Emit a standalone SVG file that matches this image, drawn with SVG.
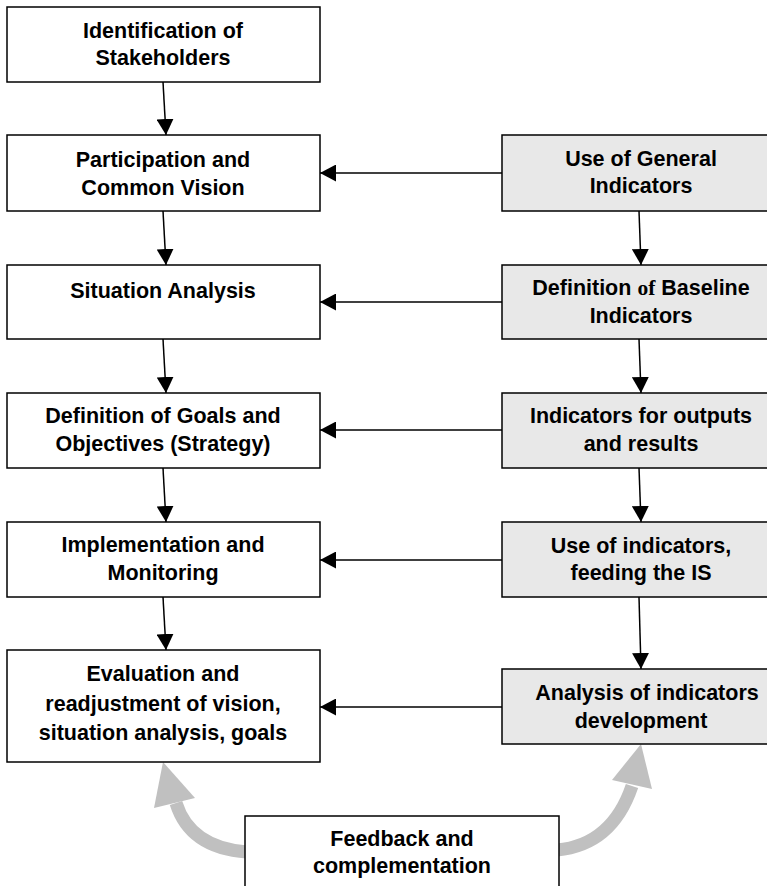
<svg xmlns="http://www.w3.org/2000/svg" width="767" height="886" viewBox="0 0 767 886">
<defs>
<style>
.box{fill:#fff;stroke:#000;stroke-width:1.5}
.gbox{fill:#e8e8e8;stroke:#000;stroke-width:1.5}
.t{font-family:"Liberation Sans",Arial,sans-serif;font-weight:bold;font-size:21.5px;fill:#000;text-anchor:middle}
.ser{font-family:"Liberation Serif","Times New Roman",serif}
.conn{stroke:#000;stroke-width:1.5;fill:none;marker-end:url(#ah)}
.gray{stroke:#c0c0c0;stroke-width:13;fill:none}
.ghead{fill:#c0c0c0}
</style>
<marker id="ah" markerUnits="userSpaceOnUse" markerWidth="17" markerHeight="17" refX="16" refY="8.5" orient="auto" viewBox="0 0 17 17">
<path d="M0,0 L16,8.5 L0,17 z" fill="#000"/>
</marker>
</defs>
<rect width="767" height="886" fill="#fff"/>

<g id="feedback-arrows">
<path class="gray" d="M247,852 Q190,848 176,803"/>
<polygon class="ghead" points="163,762 154,808 195,798"/>
<path class="gray" d="M557,850 Q612,845 632,786"/>
<polygon class="ghead" points="641,744 612,780 652,789"/>
</g>

<g id="connectors">
<path class="conn" d="M163,82 L166,135"/>
<path class="conn" d="M163,211 L166,265"/>
<path class="conn" d="M163,339 L166,393"/>
<path class="conn" d="M163,468 L166,522"/>
<path class="conn" d="M163,597 L166,650"/>
<path class="conn" d="M639,211 L641,265"/>
<path class="conn" d="M639,339 L641,393"/>
<path class="conn" d="M639,468 L641,522"/>
<path class="conn" d="M639,597 L641,669"/>
<path class="conn" d="M502,173 L320,173"/>
<path class="conn" d="M502,302 L320,302"/>
<path class="conn" d="M502,430 L320,430"/>
<path class="conn" d="M502,560 L320,560"/>
<path class="conn" d="M502,707 L320,707"/>
</g>

<g id="n-stakeholders">
<rect class="box" x="7" y="7" width="313" height="75"/>
<text class="t" x="163" y="37.5">Identification of</text>
<text class="t" x="163" y="64.5">Stakeholders</text>
</g>
<g id="n-participation">
<rect class="box" x="7" y="135" width="313" height="76"/>
<text class="t" x="163" y="166.5">Participation and</text>
<text class="t" x="163" y="194.5">Common Vision</text>
</g>
<g id="n-situation">
<rect class="box" x="7" y="265" width="313" height="74"/>
<text class="t" x="163" y="297.5">Situation Analysis</text>
</g>
<g id="n-goals">
<rect class="box" x="7" y="393" width="313" height="75"/>
<text class="t" x="163" y="422.5">Definition of Goals and</text>
<text class="t" x="163" y="450.5">Objectives (Strategy)</text>
</g>
<g id="n-implementation">
<rect class="box" x="7" y="522" width="313" height="75"/>
<text class="t" x="163" y="551.5">Implementation and</text>
<text class="t" x="163" y="579.5">Monitoring</text>
</g>
<g id="n-evaluation">
<rect class="box" x="7" y="650" width="313" height="112"/>
<text class="t" x="163" y="680.5">Evaluation and</text>
<text class="t" x="163" y="710.5">readjustment of vision,</text>
<text class="t" x="163" y="739.5">situation analysis, goals</text>
</g>

<g id="n-general-indicators">
<rect class="gbox" x="502" y="135" width="280" height="76"/>
<text class="t" x="641" y="165.5">Use of General</text>
<text class="t" x="641" y="192.5">Indicators</text>
</g>
<g id="n-baseline">
<rect class="gbox" x="502" y="265" width="280" height="74"/>
<text class="t" x="641" y="294.5">Definition <tspan class="ser">of</tspan> Baseline</text>
<text class="t" x="641" y="322.5">Indicators</text>
</g>
<g id="n-outputs">
<rect class="gbox" x="502" y="393" width="280" height="75"/>
<text class="t" x="641" y="422.5">Indicators for outputs</text>
<text class="t" x="641" y="450.5">and results</text>
</g>
<g id="n-feeding">
<rect class="gbox" x="502" y="522" width="280" height="75"/>
<text class="t" x="641" y="553">Use of indicators,</text>
<text class="t" x="641" y="579.5">feeding the IS</text>
</g>
<g id="n-analysis">
<rect class="gbox" x="502" y="669" width="280" height="75"/>
<text class="t" x="647" y="699.5">Analysis of indicators</text>
<text class="t" x="641" y="727.5">development</text>
</g>

<g id="n-feedback">
<rect class="box" x="245" y="816" width="314" height="80"/>
<text class="t" x="402" y="845.5">Feedback and</text>
<text class="t" x="402" y="872.5">complementation</text>
</g>
</svg>
